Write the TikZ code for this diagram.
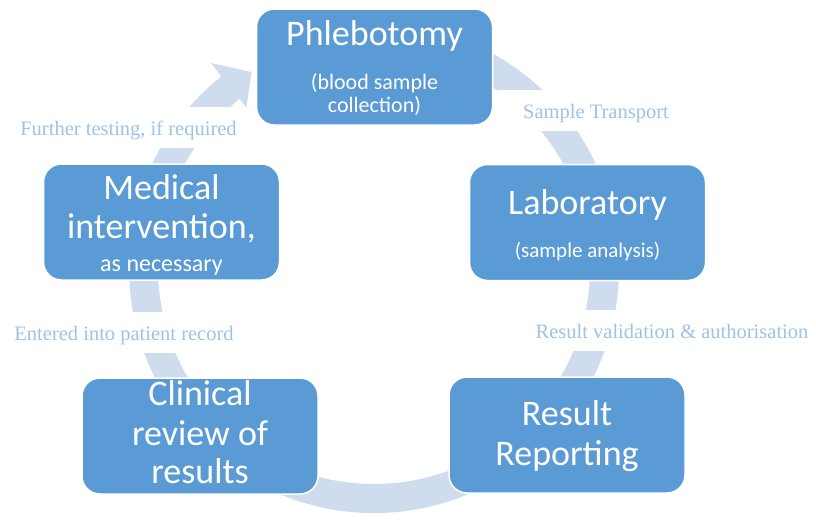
\documentclass[tikz,border=0pt]{standalone}
\usepackage{fontspec}
\newfontfamily\boxfont{Carlito}
\newfontfamily\labfont{Liberation Serif}
\definecolor{boxblue}{RGB}{91,155,213}
\definecolor{bandblue}{RGB}{207,220,237}
\definecolor{labblue}{RGB}{157,195,230}
\tikzset{
  boxnode/.style={rounded corners=18pt, fill=boxblue, draw=white, line width=1.5pt,
    inner sep=0pt, minimum width=236pt, minimum height=116pt},
  ttl/.style={text=white, font=\boxfont\fontsize{36}{40}\selectfont, anchor=base, inner sep=0pt},
  subttl/.style={text=white, font=\boxfont\fontsize{21}{24}\selectfont, anchor=base, inner sep=0pt},
  lab/.style={text=labblue, font=\labfont\fontsize{20.5}{24}\selectfont, anchor=base,
    fill=white, text height=23pt, text depth=8pt, inner ysep=5pt, inner xsep=0pt},
}
\begin{document}
\begin{tikzpicture}[x=1pt,y=-1pt]
\fill[white] (0,0) rectangle (816,525);
\useasboundingbox (0,0) rectangle (816,525);
% circular arrow band
\begin{scope}[shift={(374,268)}, y=1pt]
\fill[bandblue] (65:245pt) arc[start angle=65, end angle=-231.5, radius=245pt]
  -- (-231.5:262pt) -- (-238:231pt) -- (-231.5:205pt) -- (-231.5:216pt)
  arc[start angle=-231.5, end angle=65, radius=216pt] -- cycle;
\end{scope}
% labels
\node[lab] (l1) at (128.5,135) {Further testing, if required};
\node[lab, inner xsep=25pt] (l2) at (596,118) {Sample Transport};
\node[lab] (l3) at (672,338) {Result validation \& authorisation};
\node[lab] (l4) at (124,340) {Entered into patient record};
% boxes
\node[boxnode] (phleb) at (374.5,67) {};
\node[boxnode] (lab) at (587.5,222.5) {};
\node[boxnode] (rep) at (567,435) {};
\node[boxnode] (clin) at (200,436) {};
\node[boxnode] (med) at (161.5,222) {};
% box texts
\node[ttl] (phleb1) at (374.5,45) {Phlebotomy};
\node[subttl, font=\boxfont\fontsize{22}{24}\selectfont] (phleb2) at (374.5,89) {(blood sample};
\node[subttl, font=\boxfont\fontsize{22}{24}\selectfont] (phleb3) at (374.5,112) {collection)};
\node[ttl] (lab1) at (587.5,214) {Laboratory};
\node[subttl] (lab2) at (587.5,257) {(sample analysis)};
\node[ttl] (rep1) at (567,425) {Result};
\node[ttl] (rep2) at (567,465) {Reporting};
\node[ttl] (clin1) at (200,405) {Clinical};
\node[ttl] (clin2) at (200,445) {review of};
\node[ttl] (clin3) at (200,483) {results};
\node[ttl] (med1) at (161.5,199) {Medical};
\node[ttl] (med2) at (161.5,238) {intervention,};
\node[subttl, font=\boxfont\fontsize{24}{26}\selectfont] (med3) at (161.5,271) {as necessary};
\end{tikzpicture}
\end{document}
